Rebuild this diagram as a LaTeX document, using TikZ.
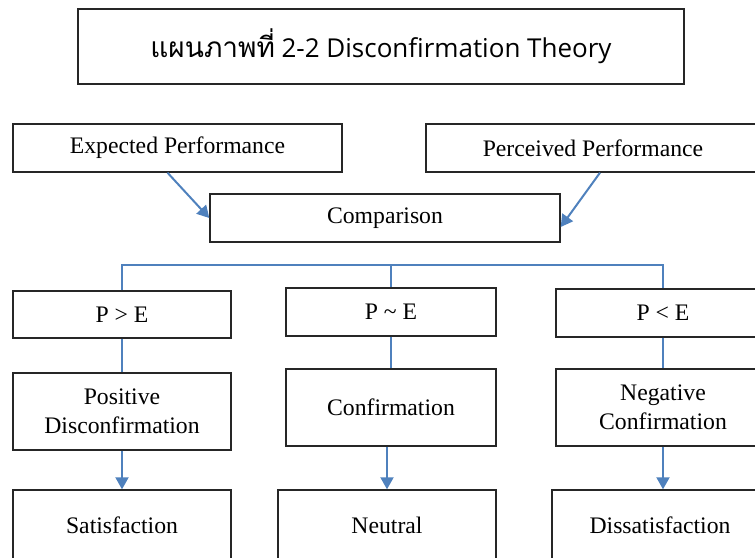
\documentclass[tikz,border=0pt]{standalone}
\usepackage{fontspec}
\setmainfont{Liberation Serif}
\newfontfamily\thaifont[Script=Thai]{Loma}
\newfontfamily\titlefont{Open Sans}
\usetikzlibrary{arrows.meta,positioning}
\definecolor{linkblue}{RGB}{79,129,189}
\tikzset{
    %Define standard arrow tip
    >={Triangle[length=12pt,width=13pt]},
    %Define style for boxes
    box/.style={
           rectangle,
           draw=black!85, line width=1.4pt,
           inner sep=0pt,
           font=\fontsize{23.7}{28.5}\selectfont,
           align=center},
    titlebox/.style={
           box,
           line width=2pt,
           font=\fontsize{26}{30}\selectfont},
    % Define line styles
    link/.style={
           draw=linkblue,
           line width=1.3pt},
    pil/.style={
           ->,
           draw=linkblue,
           line width=2pt}
}

\begin{document}
\begin{tikzpicture}[x=1pt,y=-1pt]
\useasboundingbox (0,0) rectangle (755,557);
\clip (0,0) rectangle (755,557);

% title
\node[titlebox, minimum width=606pt, minimum height=75pt] (title) at (381,46.5) {{\thaifont\fontsize{28}{30}\selectfont แผนภาพที่} {\titlefont 2-2 Disconfirmation Theory}};

% performance and comparison
\node[box, minimum width=329pt, minimum height=48pt] (exp) at (177.5,148) {Expected Performance};
\node[box, minimum width=334pt, minimum height=48pt] (perc) at (593,148) {Perceived Performance};
\node[box, minimum width=350pt, minimum height=48pt] (comp) at (385,218) {Comparison};

% outcomes of the comparison
\node[box, minimum width=218pt, minimum height=47pt] (pge) at (122,314.5) {P > E};
\node[box, minimum width=210pt, minimum height=48pt] (peq) at (391,312) {P \textasciitilde\ E};
\node[box, minimum width=214pt, minimum height=48pt] (ple) at (663,313) {P < E};

\node[box, minimum width=218pt, minimum height=77pt] (pos) at (122,411.5) {Positive\\Disconfirmation};
\node[box, minimum width=210pt, minimum height=77pt] (conf) at (391,407.5) {Confirmation};
\node[box, minimum width=214pt, minimum height=77pt] (neg) at (663,407.5) {Negative\\Confirmation};

\node[box, minimum width=218pt, minimum height=70pt] (sat) at (122,525) {Satisfaction};
\node[box, minimum width=218pt, minimum height=70pt] (neu) at (387,525) {Neutral};
\node[box, minimum width=216pt, minimum height=70pt] (dis) at (660,525) {Dissatisfaction};

\coordinate (bus) at (391,265);

\draw[pil] ([xshift=-10pt]exp.south) -- (comp.west);
\draw[pil] ([xshift=7pt]perc.south) -- ([yshift=-9pt]comp.east);

\draw[link] (pge.north) |- (bus) -| (ple.north);
\draw[link] (bus) -- (peq.north);

\draw[link] (pge) -- (pos);
\draw[link] (peq) -- (conf);
\draw[link] (ple) -- (neg);

\draw[pil] (pos.south) -- (pos.south |- sat.north);
\draw[pil] (conf.south -| neu.north) -- (neu.north);
\draw[pil] (neg.south) -- (neg.south |- dis.north);
\end{tikzpicture}
\end{document}
